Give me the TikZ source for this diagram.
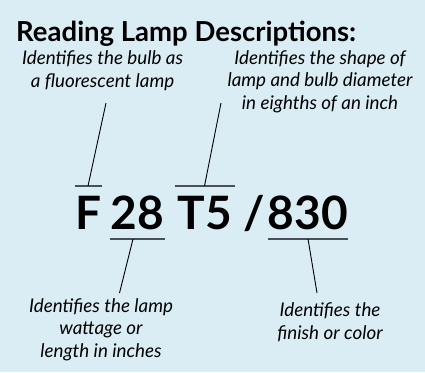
\documentclass[tikz,border=0pt]{standalone}
\usepackage{fontspec}
\setmainfont{Lato}
\usetikzlibrary{positioning}

\definecolor{panelblue}{HTML}{DAEDF4}
\definecolor{bargray}{HTML}{4A5055}

\begin{document}
\begin{tikzpicture}[x=1pt, y=-1pt,
    title/.style={font=\bfseries\fontsize{27.5}{30}\selectfont, anchor=base west, inner sep=0pt},
    note/.style={font=\itshape\fontsize{18.8}{22.5}\selectfont, align=center, anchor=base, inner sep=0pt},
    code/.style={font=\bfseries\fontsize{46}{50}\selectfont, anchor=base, inner sep=0pt},
    leader/.style={line width=0.9pt},
    bar/.style={line width=1.6pt, draw=bargray}]
    % Background panel
    \fill[panelblue] (0,0) rectangle (425,372);

    % Heading
    \node[title] (title) at (16,41) {Reading Lamp Descriptions:};

    % Descriptions above and below (anchored on their last line)
    \node[note] (noteF) at (102.5,87) {Identifies the bulb as\\a fluorescent lamp};
    \node[note] (noteT) at (320,109) {Identifies the shape of\\lamp and bulb diameter\\in eighths of an inch};
    \node[note] (noteW) at (101,357) {Identifies the lamp\\wattage or\\length in inches};
    \node[note] (noteC) at (330,339) {Identifies the\\finish or color};

    % Lamp code
    \node[code] (codeF) at (88.5,229) {F};
    \node[code] (code28) at (137.5,229) {28};
    \node[code] (codeT5) at (205,229) {T5};
    \node[code] (slash) at (254,229) {/};
    \node[code] (code830) at (308,229) {830};

    % Bar ends and leader ends
    \coordinate (fBarL) at (75,186);
    \coordinate (fBarR) at (102,186);
    \coordinate (fBar) at (88,186);
    \coordinate (fTop) at (106,103);
    \coordinate (tBarL) at (175,186);
    \coordinate (tBarR) at (235,186);
    \coordinate (tBar) at (204.5,186);
    \coordinate (tTop) at (221,103);
    \coordinate (wBarL) at (110,239);
    \coordinate (wBarR) at (165,239);
    \coordinate (wBar) at (133,239);
    \coordinate (wEnd) at (119.5,293);
    \coordinate (cBarL) at (268,239);
    \coordinate (cBarR) at (348,239);
    \coordinate (cBar) at (308,239);
    \coordinate (cEnd) at (317,293);

    % Bars
    \draw[bar] (fBarL) -- (fBarR);
    \draw[bar] (tBarL) -- (tBarR);
    \draw[bar] (wBarL) -- (wBarR);
    \draw[bar] (cBarL) -- (cBarR);

    % Leaders
    \draw[leader] (fTop) -- (fBar);
    \draw[leader] (tTop) -- (tBar);
    \draw[leader] (wBar) -- (wEnd);
    \draw[leader] (cBar) -- (cEnd);
\end{tikzpicture}
\end{document}
